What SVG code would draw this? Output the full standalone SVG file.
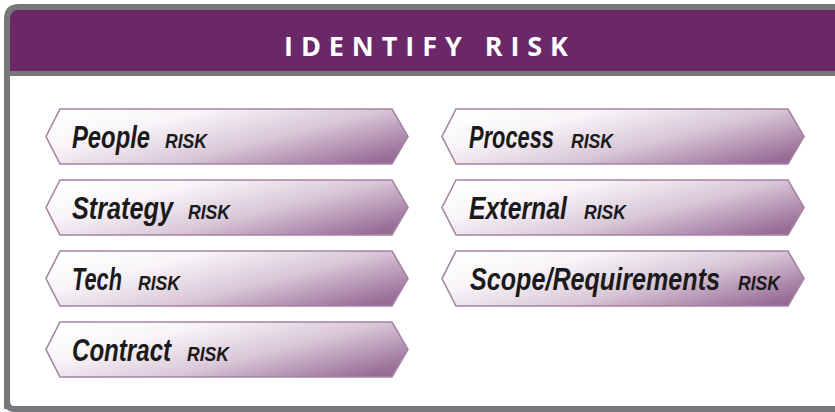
<svg xmlns="http://www.w3.org/2000/svg" width="835" height="412" viewBox="0 0 835 412">
<defs>
<linearGradient id="g" x1="0" y1="0.2" x2="1" y2="0.8">
<stop offset="0" stop-color="#ffffff"/>
<stop offset="0.25" stop-color="#f8f4f8"/>
<stop offset="0.6" stop-color="#d9c7d8"/>
<stop offset="1" stop-color="#986c96"/>
</linearGradient>
<polygon id="shp" points="14,0 346,0 362,27.5 346,55 14,55 0,27.5"/>
</defs>
<style>
.box{fill:url(#g);stroke:#a583a3;stroke-width:1.6}
.big{font-family:"Liberation Sans",Arial,sans-serif;font-weight:bold;font-style:italic;font-size:31px;fill:#1a1a1a}
.sm{font-family:"Liberation Sans",Arial,sans-serif;font-weight:bold;font-style:italic;font-size:20px;fill:#1a1a1a}
.title{font-family:"Open Sans","Liberation Sans",sans-serif;font-weight:bold;font-size:27px;fill:#ffffff}
</style>
<g id="frame">
<path d="M7,407 V19 Q7,7 19,7 H850 V73 H7 Z" fill="#6b2868"/>
<path d="M7,409 V19 Q7,7 19,7 H850" fill="none" stroke="#77787b" stroke-width="6"/>
<line x1="7" y1="73.5" x2="850" y2="73.5" stroke="#77787b" stroke-width="5"/>
<path d="M7,400 Q7,409 14,409 H850" fill="none" stroke="#77787b" stroke-width="6"/>
<text class="title" x="284" y="56" textLength="284" lengthAdjust="spacing">IDENTIFY RISK</text>
</g>
<g id="people" transform="translate(46,109)">
<use href="#shp" class="box"/>
<text class="big" transform="translate(26,38.5) scale(0.78,1)" textLength="100" lengthAdjust="spacingAndGlyphs">People</text>
<text class="sm" transform="translate(119,38.5) scale(0.88,1)" textLength="47.7" lengthAdjust="spacingAndGlyphs">RISK</text>
</g>
<g id="strategy" transform="translate(46,180)">
<use href="#shp" class="box"/>
<text class="big" transform="translate(26,38.5) scale(0.78,1)" textLength="129.5" lengthAdjust="spacingAndGlyphs">Strategy</text>
<text class="sm" transform="translate(142,38.5) scale(0.88,1)" textLength="47.7" lengthAdjust="spacingAndGlyphs">RISK</text>
</g>
<g id="tech" transform="translate(46,251)">
<use href="#shp" class="box"/>
<text class="big" transform="translate(26,38.5) scale(0.78,1)" textLength="64" lengthAdjust="spacingAndGlyphs">Tech</text>
<text class="sm" transform="translate(92,38.5) scale(0.88,1)" textLength="47.7" lengthAdjust="spacingAndGlyphs">RISK</text>
</g>
<g id="contract" transform="translate(46,322)">
<use href="#shp" class="box"/>
<text class="big" transform="translate(26,38.5) scale(0.78,1)" textLength="127" lengthAdjust="spacingAndGlyphs">Contract</text>
<text class="sm" transform="translate(141,38.5) scale(0.88,1)" textLength="47.7" lengthAdjust="spacingAndGlyphs">RISK</text>
</g>
<g id="process" transform="translate(442,109)">
<use href="#shp" class="box"/>
<text class="big" transform="translate(27,38.5) scale(0.78,1)" textLength="109" lengthAdjust="spacingAndGlyphs">Process</text>
<text class="sm" transform="translate(129,38.5) scale(0.88,1)" textLength="47.7" lengthAdjust="spacingAndGlyphs">RISK</text>
</g>
<g id="external" transform="translate(442,180)">
<use href="#shp" class="box"/>
<text class="big" transform="translate(27,38.5) scale(0.78,1)" textLength="125.6" lengthAdjust="spacingAndGlyphs">External</text>
<text class="sm" transform="translate(142,38.5) scale(0.88,1)" textLength="47.7" lengthAdjust="spacingAndGlyphs">RISK</text>
</g>
<g id="scope" transform="translate(442,251)">
<use href="#shp" class="box"/>
<text class="big" transform="translate(28,38.5) scale(0.78,1)" textLength="320.5" lengthAdjust="spacingAndGlyphs">Scope/Requirements</text>
<text class="sm" transform="translate(296,38.5) scale(0.88,1)" textLength="47.7" lengthAdjust="spacingAndGlyphs">RISK</text>
</g>
<g id="connectors"/>
</svg>
